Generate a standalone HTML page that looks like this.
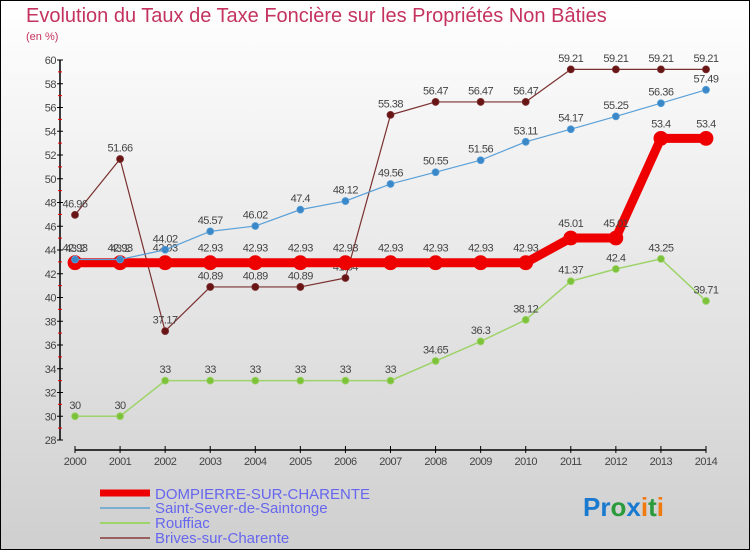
<!DOCTYPE html>
<html><head><meta charset="utf-8"><style>
html,body{margin:0;padding:0}
body{width:750px;height:550px;overflow:hidden;font-family:"Liberation Sans",sans-serif}
#wrap{position:relative;width:748px;height:548px;border:1px solid #000;background:linear-gradient(#ffffff,#cfcfcf)}
</style></head><body>
<div id="wrap">
<svg id="chart" width="748" height="548" viewBox="1 1 748 548" style="position:absolute;left:0;top:0">
<text x="26" y="22" font-size="20" fill="#c4335f">Evolution du Taux de Taxe Foncière sur les Propriétés Non Bâties</text>
<text x="26" y="40" font-size="11" fill="#c4335f">(en %)</text>
<g id="axes"></g><g id="series"></g>
<g>
<line x1="100" y1="493" x2="150" y2="493" stroke="#e00" stroke-width="7"/>
<text x="155" y="499" font-size="15" fill="#6666ee">DOMPIERRE-SUR-CHARENTE</text>
<line x1="100" y1="508" x2="150" y2="508" stroke="#7aaed0" stroke-width="2"/>
<text x="155" y="513" font-size="15" fill="#6666ee">Saint-Sever-de-Saintonge</text>
<line x1="100" y1="523" x2="150" y2="523" stroke="#9ed36a" stroke-width="2"/>
<text x="155" y="528" font-size="15" fill="#6666ee">Rouffiac</text>
<line x1="100" y1="538" x2="150" y2="538" stroke="#9a6060" stroke-width="2"/>
<text x="155" y="543" font-size="15" fill="#6666ee">Brives-sur-Charente</text>
</g>
<text x="583" y="516" font-size="26" font-weight="bold"><tspan fill="#1a7ad0">Pr</tspan><tspan fill="#2a9a3a">o</tspan><tspan fill="#1a7ad0">x</tspan><tspan fill="#f07a10">i</tspan><tspan fill="#2a9a3a">t</tspan><tspan fill="#f07a10">i</tspan></text>
</svg>
</div>
<script>
const years=[2000,2001,2002,2003,2004,2005,2006,2007,2008,2009,2010,2011,2012,2013,2014];
const yTicks=[28,30,32,34,36,38,40,42,44,46,48,50,52,54,56,58,60];
const dompierre=[42.93,42.93,42.93,42.93,42.93,42.93,42.93,42.93,42.93,42.93,42.93,45.01,45.01,53.4,53.4];
const saintSever=[43.2,43.2,44.02,45.57,46.02,47.4,48.12,49.56,50.55,51.56,53.11,54.17,55.25,56.36,57.49];
const rouffiac=[30,30,33,33,33,33,33,33,34.65,36.3,38.12,41.37,42.4,43.25,39.71];
const brives=[46.96,51.66,37.17,40.89,40.89,40.89,41.64,55.38,56.47,56.47,56.47,59.21,59.21,59.21,59.21];
const NS='http://www.w3.org/2000/svg';
const X0=75,X1=706,Y0=440,Y1=60,VMIN=28,VMAX=60;
function xs(i){return X0+(X1-X0)*i/(years.length-1);}
function ys(v){return Y0-(v-VMIN)*(Y0-Y1)/(VMAX-VMIN);}
function mk(tag,attrs,parent){const e=document.createElementNS(NS,tag);for(const k in attrs)e.setAttribute(k,attrs[k]);parent.appendChild(e);return e;}
const axes=document.getElementById('axes');
let a=mk('line',{x1:60,y1:Y1,x2:60,y2:Y0,stroke:'#000','stroke-width':1.5},axes);


a=mk('line',{x1:X0,y1:450,x2:X1,y2:450,stroke:'#000','stroke-width':1.5},axes);


yTicks.forEach(v=>{
  const y=ys(v);
  mk('line',{x1:57,y1:y,x2:63,y2:y,stroke:'#000'},axes);
  if(v<VMAX)mk('line',{x1:58,y1:ys(v+1),x2:62,y2:ys(v+1),stroke:'#e00'},axes);
  const t=mk('text',{x:56,y:y+4,'font-size':11,fill:'#444','text-anchor':'end','letter-spacing':'-0.5'},axes);
  t.textContent=v;
  
  
});
years.forEach((yr,i)=>{
  const x=xs(i);
  mk('line',{x1:x,y1:446,x2:x,y2:453,stroke:'#000'},axes);
  const t=mk('text',{x:x,y:465,'font-size':11,fill:'#444','text-anchor':'middle','letter-spacing':'-0.5'},axes);
  t.textContent=yr;
  
  
});
const ser=document.getElementById('series');
function draw(vals,name,color,w,r,dot){
  const g=mk('g',{},ser);
  
  
  const l=mk('polyline',{points:vals.map((v,i)=>xs(i)+','+ys(v)).join(' '),fill:'none',stroke:color,'stroke-width':w,'stroke-linejoin':'round'},g);
  
  
  vals.forEach((v,i)=>{
    const c=mk('circle',{cx:xs(i),cy:ys(v),r:r,fill:dot,stroke:color,'stroke-width':0.8},g);
    
    
    const t=mk('text',{x:xs(i),y:ys(v)-r-4,'font-size':11,fill:'#444','text-anchor':'middle','letter-spacing':'-0.5'},g);
    t.textContent=v;
    
    
  });
}
draw(rouffiac,'rouffiac','#9ed36a',1.5,3.5,'#7cc23a');
draw(brives,'brives','#7a3030',1.2,3.5,'#6a1515');
draw(dompierre,'dompierre','#ee0000',9,7,'#ee0000');
draw(saintSever,'saint-sever','#5aa0d8',1.2,3.5,'#3a88c8');
</script>
</body></html>
